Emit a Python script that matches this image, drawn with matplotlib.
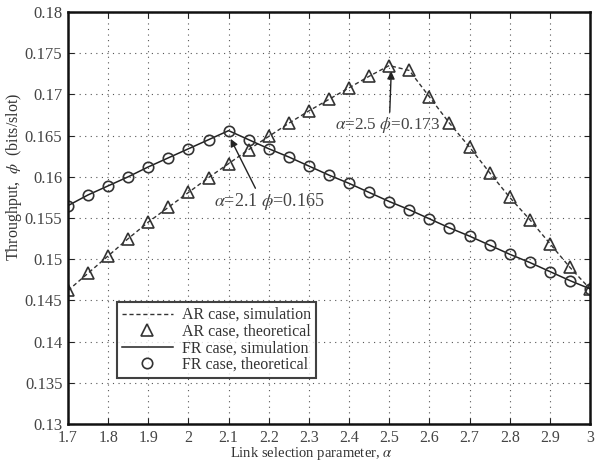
import matplotlib
matplotlib.use("Agg")
import matplotlib.pyplot as plt
import numpy as np

alpha = [1.70, 1.75, 1.80, 1.85, 1.90, 1.95, 2.00, 2.05, 2.10, 2.15, 2.20, 2.25, 2.30, 2.35,
         2.40, 2.45, 2.50, 2.55, 2.60, 2.65, 2.70, 2.75, 2.80, 2.85, 2.90, 2.95, 3.00]
ar_values = [0.1462, 0.1483, 0.1504, 0.1525, 0.1545, 0.1563, 0.1581, 0.1599, 0.1616, 0.1633,
             0.1649, 0.1665, 0.1680, 0.1694, 0.1708, 0.1722, 0.1735, 0.1729, 0.1697, 0.1665,
             0.1636, 0.1605, 0.1575, 0.1548, 0.1519, 0.1490, 0.1464]
fr_values = [0.1565, 0.1578, 0.1589, 0.1600, 0.1612, 0.1623, 0.1634, 0.1645, 0.1656, 0.1645,
             0.1634, 0.1624, 0.1613, 0.1602, 0.1592, 0.1581, 0.1570, 0.1560, 0.1549, 0.1538,
             0.1528, 0.1517, 0.1506, 0.1496, 0.1485, 0.1474, 0.1464]
xticks = [1.7, 1.8, 1.9, 2.0, 2.1, 2.2, 2.3, 2.4, 2.5, 2.6, 2.7, 2.8, 2.9, 3.0]
xticklabels = ["1.7", "1.8", "1.9", "2", "2.1", "2.2", "2.3", "2.4", "2.5", "2.6", "2.7", "2.8", "2.9", "3"]
yticks = [0.13, 0.135, 0.14, 0.145, 0.15, 0.155, 0.16, 0.165, 0.17, 0.175, 0.18]
yticklabels = ["0.13", "0.135", "0.14", "0.145", "0.15", "0.155", "0.16", "0.165", "0.17", "0.175", "0.18"]
legend_labels = ["AR case, simulation", "AR case, theoretical", "FR case, simulation", "FR case, theoretical"]

plt.rcParams['font.family'] = ['Liberation Serif', 'DejaVu Serif']
plt.rcParams['mathtext.fontset'] = 'stix'

fig = plt.figure(figsize=(5.97, 4.61), dpi=100)
ax = fig.add_axes([0.1139, 0.0803, 0.8744, 0.8937])

ax.plot(alpha, ar_values, linestyle=(0, (3, 2)), color='#333333', lw=1.0, label=legend_labels[0])
ax.plot(alpha, ar_values, linestyle='none', marker='^', markersize=8, markerfacecolor='none',
        markeredgecolor='#333333', markeredgewidth=1.2, label=legend_labels[1])
ax.plot(alpha, fr_values, linestyle='-', color='#222222', lw=1.1, label=legend_labels[2])
ax.plot(alpha, fr_values, linestyle='none', marker='o', markersize=7.5, markerfacecolor='none',
        markeredgecolor='#333333', markeredgewidth=1.2, label=legend_labels[3])

ax.set_xlim(1.7, 3.0)
ax.set_ylim(0.13, 0.18)
ax.set_xticks(xticks)
ax.set_xticklabels(xticklabels)
ax.set_yticks(yticks)
ax.set_yticklabels(yticklabels)
ax.tick_params(direction='in', top=True, right=True, labelsize=11.5, colors='#222222',
               labelcolor='#444444', length=4)
ax.tick_params(axis='y', pad=4, labelsize=12)
ax.tick_params(axis='x', pad=4)
ax.grid(True, linestyle=(0, (1, 4)), color='#555555', lw=0.8)
for s in ax.spines.values():
    s.set_linewidth(1.8)
    s.set_color('#111111')

ax.set_xlabel(r"Link selection parameter, $\alpha$", fontsize=10.5, color='#333333')
ax.xaxis.set_label_coords(0.467, -0.05)
ax.set_ylabel(r"Throughput,  $\phi$  (bits/slot)", fontsize=11.5, color='#333333')
ax.yaxis.set_label_coords(-0.085, 0.60)

ax.annotate(r"$\alpha$=2.1 $\phi$=0.165", xy=(2.105, 0.1646), xytext=(2.063, 0.1570),
            fontsize=13, color='#444444', va='center',
            arrowprops=dict(arrowstyle='-|>', color='#222222', lw=1.0, mutation_scale=11,
                            shrinkA=0, shrinkB=0, relpos=(0.39, 1.0)))
ax.annotate(r"$\alpha$=2.5 $\phi$=0.173", xy=(2.505, 0.1728), xytext=(2.365, 0.1663),
            fontsize=12.3, color='#444444', va='center',
            arrowprops=dict(arrowstyle='-|>', color='#222222', lw=1.0, mutation_scale=11,
                            shrinkA=0, shrinkB=0, relpos=(0.52, 1.0)))

leg = ax.legend(loc='lower left', bbox_to_anchor=(0.094, 0.112), fontsize=11.5, frameon=True,
                fancybox=False, edgecolor='#111111', handlelength=3.2, borderpad=0.3,
                labelspacing=0.04, handletextpad=0.55, borderaxespad=0)
leg.get_frame().set_linewidth(1.5)
for t in leg.get_texts():
    t.set_color('#333333')

fig.savefig("out.png", dpi=100)
